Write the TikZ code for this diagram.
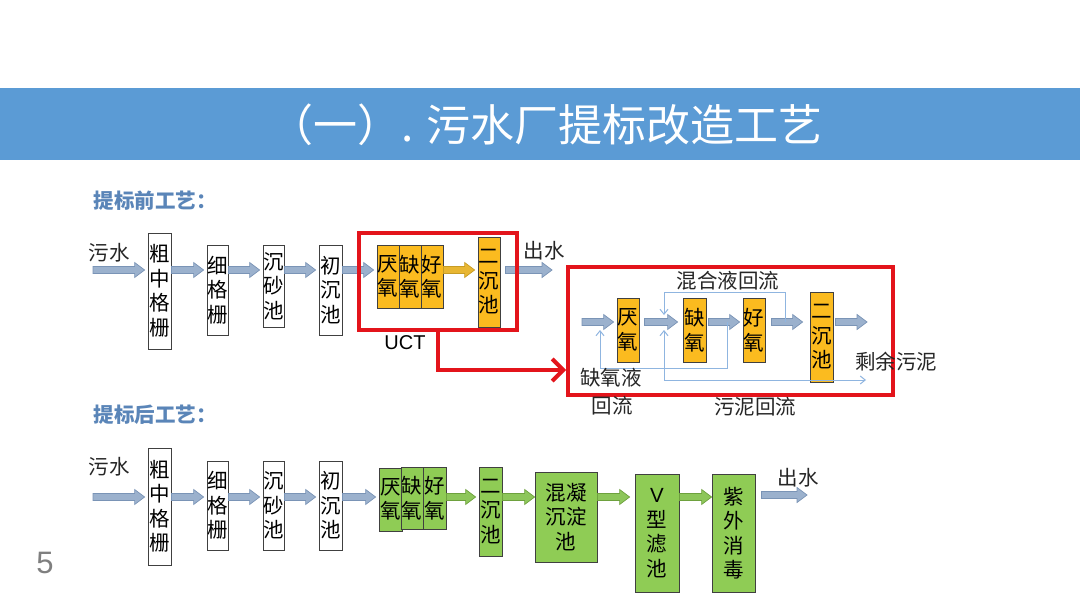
\documentclass[tikz,border=0pt]{standalone}
\usepackage{fontspec}
\setmainfont{Noto Sans CJK SC}
\newfontfamily\cjk{Noto Sans CJK SC}
\newfontfamily\latsans{Liberation Sans}
\usetikzlibrary{calc,arrows.meta}
\definecolor{titleblue}{HTML}{5B9BD5}
\definecolor{hdrblue}{HTML}{5A85B8}
\definecolor{boxedge}{HTML}{404040}
\definecolor{orangefill}{HTML}{FBBB1F}
\definecolor{greenfill}{HTML}{8FCC55}
\definecolor{arrfill}{HTML}{9BB1CD}
\definecolor{arredge}{HTML}{7A94B6}
\definecolor{yarrfill}{HTML}{E8B632}
\definecolor{yarredge}{HTML}{C79C25}
\definecolor{garrfill}{HTML}{8DC65A}
\definecolor{garredge}{HTML}{6EA13E}
\definecolor{redc}{HTML}{E3141B}
\definecolor{loopc}{HTML}{8FB5E0}
\definecolor{pagegray}{HTML}{7F7F7F}
\newcommand\barw[3]{%
  \path #2 coordinate (s) #3 coordinate (e);
  \draw[#1] ($(s)+(0,-3.5)$) -- ($(e)+(-13,-3.5)$) -- ($(e)+(-13,-7.5)$) -- ($(e)+(-3,0)$)
    -- ($(e)+(-13,7.5)$) -- ($(e)+(-13,3.5)$) -- ($(s)+(0,3.5)$) -- cycle;}
\tikzset{
  wbox/.style={draw=boxedge, fill=white, line width=0.8pt, inner sep=0pt, align=center,
    font=\cjk\fontsize{20.5}{24.5}\selectfont},
  obox/.style={wbox, fill=orangefill},
  gbox/.style={wbox, fill=greenfill},
  lbl/.style={inner sep=0pt, text=black!85, font=\cjk\fontsize{20.5}{24}\selectfont},
  hdr/.style={inner sep=0pt, text=hdrblue, font=\cjk\bfseries\fontsize{20.5}{22}\selectfont},
  bluearr/.style={fill=arrfill, draw=arredge, line width=0.7pt},
  yarr/.style={fill=yarrfill, draw=yarredge, line width=0.7pt},
  garr/.style={fill=garrfill, draw=garredge, line width=0.7pt},
  redframe/.style={draw=redc, line width=4pt, inner sep=0pt},
  loopline/.style={draw=loopc, line width=1pt},
  tipb/.style={-{Straight Barb[length=5pt,width=8pt]}},
}
\begin{document}
\begin{tikzpicture}[x=1pt,y=-1pt]
\fill[white] (0,0) rectangle (1080,605);
\useasboundingbox (0,0) rectangle (1080,605);
% title
\fill[titleblue] (0,88) rectangle (1080,160);
\node[inner sep=0pt, text=white, font=\cjk\fontsize{44}{48}\selectfont] (title) at (546,125) {（一）. 污水厂提标改造工艺};
% headers
\node[hdr] (h1) at (155,201) {提标前工艺：};
\node[hdr] (h2) at (155,415) {提标后工艺：};
\node[inner sep=0pt, text=pagegray, font=\latsans\fontsize{31}{33}\selectfont] (pg) at (45,563) {5};
% row coordinates
\coordinate (r1) at (0,270);
\coordinate (r2) at (0,322);
\coordinate (r3) at (0,370);
\coordinate (r5) at (0,497);
% ---------------- top row ----------------
\node[lbl] (w1) at (109,253) {污水};
\coordinate (in1) at (93,270);
\node[wbox, minimum width=23, minimum height=116] (t1) at (159.5,291) {粗\\中\\格\\栅};
\node[wbox, minimum width=21, minimum height=90] (t2) at (217.5,290) {细\\格\\栅};
\node[wbox, minimum width=21, minimum height=82] (t3) at (273.5,286) {沉\\砂\\池};
\node[wbox, minimum width=23, minimum height=90] (t4) at (330.5,290) {初\\沉\\池};
\node[obox, minimum width=22, minimum height=63] (o1) at (388,276.5) {厌\\氧};
\node[obox, minimum width=22, minimum height=63] (o2) at (410,276.5) {缺\\氧};
\node[obox, minimum width=22, minimum height=63] (o3) at (432,276.5) {好\\氧};
\node[obox, minimum width=22, minimum height=90] (tz) at (489,282) {二\\沉\\池};
\coordinate (out1) at (555,270);
\node[lbl] (c1) at (544,251) {出水};
\barw{bluearr}{(in1)}{(t1.west |- r1)}
\barw{bluearr}{(t1.east |- r1)}{(t2.west |- r1)}
\barw{bluearr}{(t2.east |- r1)}{(t3.west |- r1)}
\barw{bluearr}{(t3.east |- r1)}{(t4.west |- r1)}
\barw{bluearr}{(t4.east |- r1)}{(o1.west |- r1)}
\barw{yarr}{(o3.east |- r1)}{(tz.west |- r1)}
\barw{bluearr}{($(tz.east |- r1)+(5,0)$)}{(out1)}
\node[redframe, minimum width=158, minimum height=97] (ucta) at (438,281.5) {};
\node[inner sep=0pt, font=\latsans\fontsize{20}{22}\selectfont] (uct) at (405,343) {UCT};
% ---------------- UCT detail ----------------
\node[redframe, minimum width=325, minimum height=128] (uctb) at (730.5,331) {};
\draw[redc, line width=4pt, -{Straight Barb[length=11pt,width=22pt]}] (ucta.south) |- (uctb.west |- r3);
\coordinate (u0) at (582,322);
\node[obox, minimum width=22, minimum height=64] (ua) at (628,330) {厌\\氧};
\node[obox, minimum width=23, minimum height=64] (ub) at (694.5,330) {缺\\氧};
\node[obox, minimum width=22, minimum height=64] (uc) at (754,330) {好\\氧};
\node[obox, minimum width=23, minimum height=90] (ud) at (821.5,337) {二\\沉\\池};
\coordinate (u9) at (870,322);
\barw{bluearr}{(u0)}{(ua.west |- r2)}
\barw{bluearr}{($(ua.east |- r2)+(5,0)$)}{($(ub.west |- r2)+(-2,0)$)}
\barw{bluearr}{($(ub.east |- r2)+(2,0)$)}{(uc.west |- r2)}
\barw{bluearr}{($(uc.east |- r2)+(6,0)$)}{($(ud.west |- r2)+(-4,0)$)}
\barw{bluearr}{($(ud.east |- r2)+(2,0)$)}{(u9)}
\coordinate (mx) at (785,322);
\coordinate (mt) at (664,315);
\coordinate (qx) at (727,322);
\coordinate (qt) at (600,330);
\coordinate (wt) at (664,330);
\coordinate (we) at (866,380);
\draw[loopline, tipb] (mx) -- ++(0,-30) -| (mt);
\draw[loopline, tipb] (qx) -- ++(0,46) -| (qt);
\draw[loopline, {Straight Barb[length=5pt,width=8pt]}-{Straight Barb[length=5pt,width=8pt]}] (wt) |- (we);
\node[lbl] (l1) at (728,281) {混合液回流};
\node[lbl] (l2) at (896,362) {剩余污泥};
\node[lbl] (l3) at (611,378) {缺氧液};
\node[lbl] (l4) at (612,406) {回流};
\node[lbl] (l5) at (755,407) {污泥回流};
% ---------------- bottom row ----------------
\node[lbl] (w2) at (109,467) {污水};
\coordinate (in2) at (93,497);
\node[wbox, minimum width=23, minimum height=117] (b1) at (159.5,506.5) {粗\\中\\格\\栅};
\node[wbox, minimum width=21, minimum height=89] (b2) at (217.5,505.5) {细\\格\\栅};
\node[wbox, minimum width=21, minimum height=89] (b3) at (273.5,505.5) {沉\\砂\\池};
\node[wbox, minimum width=23, minimum height=89] (b4) at (330.5,505.5) {初\\沉\\池};
\node[gbox, minimum width=23, minimum height=63] (g1) at (390.5,499.5) {厌\\氧};
\node[gbox, minimum width=22, minimum height=62] (g2) at (412,498) {缺\\氧};
\node[gbox, minimum width=23, minimum height=62] (g3) at (434.5,498) {好\\氧};
\node[gbox, minimum width=23, minimum height=89] (g4) at (490.5,511.5) {二\\沉\\池};
\node[gbox, minimum width=62, minimum height=90] (g5) at (566,517) {混凝\\沉淀\\池};
\node[gbox, minimum width=44, minimum height=118] (g6) at (657,533) {{\latsans V}\\型\\滤\\池};
\node[gbox, minimum width=43, minimum height=118] (g7) at (733.5,533) {紫\\外\\消\\毒};
\coordinate (out2) at (810,495);
\node[lbl] (c2) at (798,478) {出水};
\barw{bluearr}{(in2)}{(b1.west |- r5)}
\barw{bluearr}{(b1.east |- r5)}{(b2.west |- r5)}
\barw{bluearr}{(b2.east |- r5)}{(b3.west |- r5)}
\barw{bluearr}{(b3.east |- r5)}{(b4.west |- r5)}
\barw{bluearr}{(b4.east |- r5)}{(g1.west |- r5)}
\barw{garr}{(g3.east |- r5)}{(g4.west |- r5)}
\barw{garr}{(g4.east |- r5)}{($(g5.west |- r5)+(3,0)$)}
\barw{garr}{(g5.east |- r5)}{($(g6.west |- r5)+(-2,0)$)}
\barw{garr}{(g6.east |- r5)}{($(g7.west |- r5)+(3,0)$)}
\barw{bluearr}{($(g7.east |- r5)+(6,-2)$)}{(out2)}
\end{tikzpicture}
\end{document}
